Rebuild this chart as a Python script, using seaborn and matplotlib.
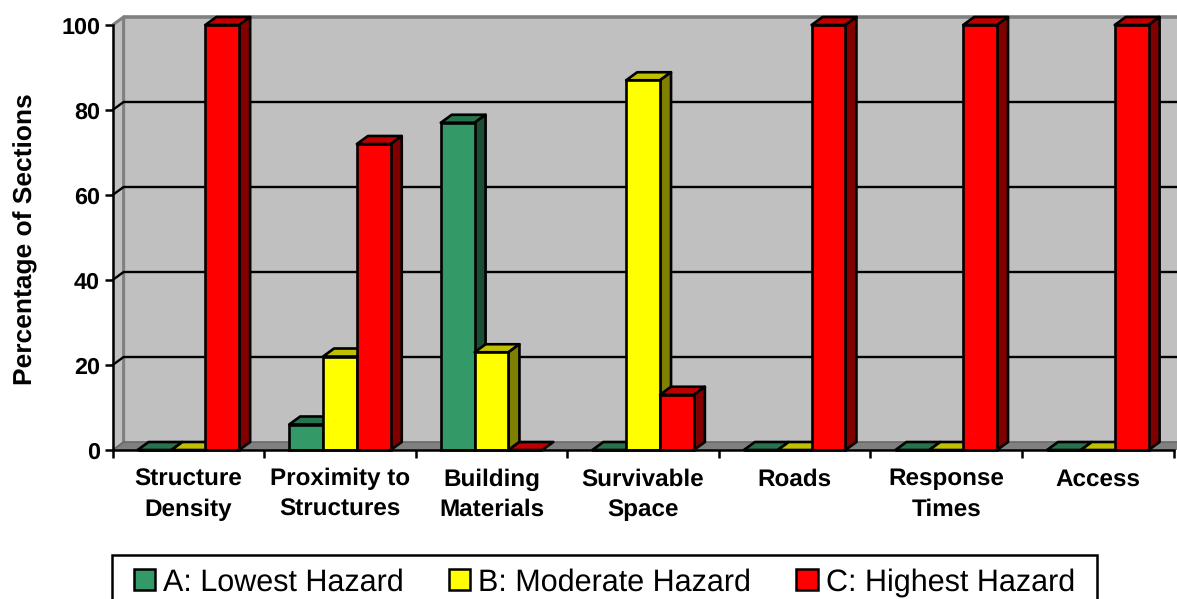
import matplotlib
matplotlib.use("Agg")
import matplotlib.pyplot as plt
from matplotlib.patches import Polygon, Rectangle
import pandas as pd
import seaborn as sns

categories = ["Structure\nDensity", "Proximity to\nStructures", "Building\nMaterials",
              "Survivable\nSpace", "Roads", "Response\nTimes", "Access"]
lowest = [0, 6, 77, 0, 0, 0, 0]
moderate = [0, 22, 23, 87, 0, 0, 0]
highest = [100, 72, 0, 13, 100, 100, 100]
series_names = ["A: Lowest Hazard", "B: Moderate Hazard", "C: Highest Hazard"]
front_colors = ["#339966", "#FFFF00", "#FF0000"]
top_colors = ["#26734D", "#C0C000", "#C00000"]
side_colors = ["#1A4D33", "#808000", "#800000"]
y_ticks = [0, 20, 40, 60, 80, 100]

W, H = 1177, 599
sns.set_theme(style="white")
plt.rcParams["font.family"] = ["Liberation Sans", "DejaVu Sans"]
plt.rcParams["text.hinting"] = "no_hinting"

df = pd.DataFrame({
    "category": categories * 3,
    "series": sum([[n] * len(categories) for n in series_names], []),
    "value": lowest + moderate + highest,
})

fig = plt.figure(figsize=(W / 100, H / 100), dpi=100, facecolor="white")
L, R, T, B = 112.6, 1173.6, 25, 450
ax = fig.add_axes([L / W, 1 - B / H, (R - L) / W, (B - T) / H])
sns.barplot(data=df, x="category", y="value", hue="series",
            hue_order=series_names, palette=front_colors, width=0.67, gap=0,
            saturation=1, errorbar=None, edgecolor="black", linewidth=1.9,
            dodge=True, legend=True, ax=ax)

n = len(categories)
ax.set_xlim(-0.5, n - 0.5)
ax.set_ylim(0, 100)
dx = 11 / ((R - L) / n)
dy = 8 / ((B - T) / 100)
x0, x1 = ax.get_xlim()
y0, y1 = ax.get_ylim()
far = x1 + 2 * dx
gray = "#808080"

# 3-D box: back wall, left wall, floor
ax.add_patch(Polygon([(x0 + dx, y0 + dy), (far, y0 + dy), (far, y1 + dy), (x0 + dx, y1 + dy)],
                     closed=True, fc="#C0C0C0", ec="none", zorder=0, clip_on=False))
ax.add_patch(Polygon([(x0, y0), (x0 + dx, y0 + dy), (x0 + dx, y1 + dy), (x0, y1)],
                     closed=True, fc="#C0C0C0", ec="none", zorder=0, clip_on=False))
ax.add_patch(Polygon([(x0, y0), (far, y0), (far, y0 + dy), (x0 + dx, y0 + dy)],
                     closed=True, fc=gray, ec="none", zorder=0.5, clip_on=False))
ax.plot([x0, x0 + dx, x0 + dx], [y1, y1 + dy, y0 + dy], color=gray, lw=2.2, zorder=0.6,
        clip_on=False, solid_capstyle="butt")
ax.plot([x0 + dx, far], [y1 + dy, y1 + dy], color=gray, lw=2.6, zorder=0.6, clip_on=False)
ax.plot([x0, x0 + dx], [y0, y0 + dy], color="#666666", lw=1.2, zorder=0.6, clip_on=False)
ax.plot([x0 + dx, far], [y0 + dy, y0 + dy], color="#6a6a6a", lw=1.2, zorder=0.6, clip_on=False)
for v in y_ticks[1:-1]:
    ax.plot([x0, x0 + dx, far], [v, v + dy, v + dy], color="black", lw=1.7, zorder=0.8,
            clip_on=False, solid_joinstyle="miter")

# bars: front faces come from seaborn, top and side faces are derived from them
legend_handles, legend_labels = ax.get_legend_handles_labels()
z = 2
for s, container in enumerate(ax.containers):
    for bar in container:
        xa, xb = bar.get_x(), bar.get_x() + bar.get_width()
        h = bar.get_height()
        bar.set_zorder(z + 0.2)
        bar.set_clip_on(False)
        ax.add_patch(Polygon([(xa, h), (xa + dx, h + dy), (xb + dx, h + dy), (xb, h)],
                             closed=True, fc=top_colors[s], ec="black", lw=1.9,
                             zorder=z, clip_on=False, joinstyle="round"))
        if h > 0:
            ax.add_patch(Polygon([(xb, 0), (xb + dx, dy), (xb + dx, h + dy), (xb, h)],
                                 closed=True, fc=side_colors[s], ec="black", lw=1.9,
                                 zorder=z, clip_on=False, joinstyle="round"))
    z += 1

# axes
for name in ["top", "right"]:
    ax.spines[name].set_visible(False)
for name in ["left", "bottom"]:
    ax.spines[name].set_color("black")
    ax.spines[name].set_linewidth(1.8)
    ax.spines[name].set_zorder(10)
ax.set_yticks(y_ticks)
ax.set_yticklabels([str(v) for v in y_ticks], fontsize=16.8, fontweight="bold", color="black")
ax.set_xticks([i - 0.5 for i in range(n + 1)])
ax.set_xticklabels([])
ax.set_xticks(range(n), minor=True)
ax.set_xticklabels(categories, minor=True, fontsize=17.5, fontweight="bold", color="black",
                   linespacing=1.45)
ax.tick_params(axis="x", which="major", length=6, width=1.8, color="black", bottom=True)
ax.tick_params(axis="x", which="minor", length=0, pad=13, bottom=False)
ax.tick_params(axis="y", which="major", length=6, width=1.8, color="black", left=True, pad=3)
ax.set_xlabel("")
ax.set_ylabel("Percentage of Sections", fontsize=19, fontweight="bold", color="black")
ax.yaxis.set_label_coords(-75 / (R - L), 0.497)

# legend: box drawn in figure pixels, running off the bottom edge as in the source
ax.get_legend().remove()
fig.add_artist(Rectangle((112 / W, 1 - 610 / H), 985 / W, 55 / H, transform=fig.transFigure,
                         fc="white", ec="black", lw=1.8, zorder=5))
leg = fig.legend(legend_handles, legend_labels, loc="upper left",
                 bbox_to_anchor=(134 / W, 1 - 568 / H), bbox_transform=fig.transFigure,
                 ncol=3, frameon=False, fontsize=22, handlelength=0.7, handleheight=0.7,
                 handletextpad=0.26, columnspacing=1.47, borderpad=0, borderaxespad=0,
                 labelcolor="black")
leg.set_zorder(6)
for handle in leg.legend_handles:
    handle.set_edgecolor("black")
    handle.set_linewidth(1.8)

fig.savefig("out.png", dpi=100, facecolor="white")
